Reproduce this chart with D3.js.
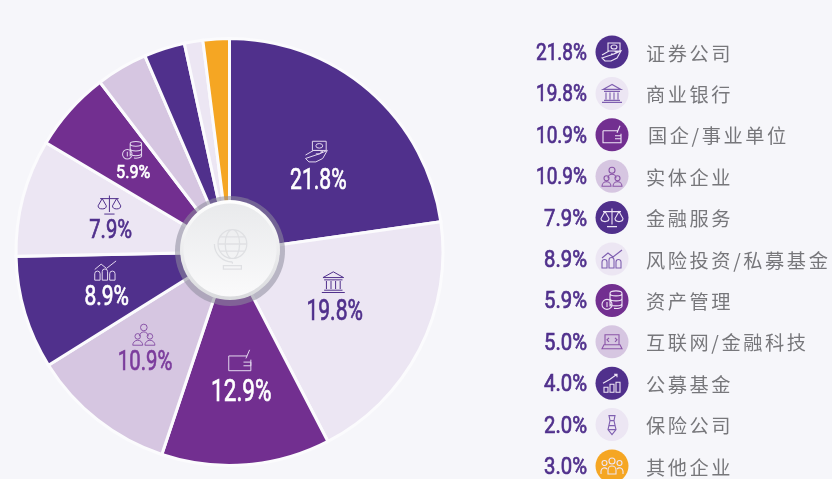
<!DOCTYPE html>
<html>
<head>
<meta charset="utf-8">
<script src="https://cdn.jsdelivr.net/npm/d3@7"></script>
<style>
  html, body { margin: 0; padding: 0; background: #f6f6fa; overflow: hidden; }
  svg { display: block; filter: blur(0.45px); }
  .num { font-family: "Liberation Sans Narrow", "Roboto", sans-serif; font-weight: 400; stroke-width: 0.7px; }
  .name { font-family: "Noto Sans CJK SC", sans-serif; font-size: 19.2px; fill: #77777b; letter-spacing: 2.6px; }
</style>
</head>
<body>
<svg id="chart"></svg>
<script>
// legend, top to bottom
const categories = ["证券公司", "商业银行", "国企/事业单位", "实体企业", "金融服务", "风险投资/私募基金", "资产管理", "互联网/金融科技", "公募基金", "保险公司", "其他企业"];
const legendValues = [21.8, 19.8, 10.9, 10.9, 7.9, 8.9, 5.9, 5.0, 4.0, 2.0, 3.0];
const legendIcons = ["money", "bank", "wallet", "people", "scales", "trend", "coins", "laptop", "growth", "tie", "group"];

// pie, clockwise from 12 o'clock. Slice sizes, they differ a bit from the printed labels
const sliceShares = [22.8, 19.7, 12.8, 11.0, 8.6, 8.9, 6.1, 3.9, 3.1, 1.4, 2.0];
const sliceLabels = [21.8, 19.8, 12.9, 10.9, 8.9, 7.9, 5.9, null, null, null, null];
const sliceIcons = ["money", "bank", "wallet", "people", "trend", "scales", "coins", null, null, null, null];

const DARK = "#50308c", LIGHT = "#ece6f3", PLUM = "#722f90", MAUVE = "#d6c6e1", ORANGE = "#f5a623";
const sliceColors = [DARK, LIGHT, PLUM, MAUVE, DARK, LIGHT, PLUM, MAUVE, DARK, LIGHT, ORANGE];
const legendColors = [DARK, LIGHT, PLUM, MAUVE, DARK, LIGHT, PLUM, MAUVE, DARK, LIGHT, ORANGE];

// label placement relative to the slice centroid, and text size
const labelNudge = [[7, 21], [-6, 0], [2, 13], [-7, 10], [-3, 8], [2, 9], [-3, 2]];
const labelSize = [29, 29, 31, 28, 27, 26, 19];
const iconScale = [0.95, 0.95, 0.95, 0.95, 0.95, 0.95, 1.2];

const width = 832, height = 479;
const cx = 229.5, cy = 252, radius = 213.5;
const hubX = 230, hubY = 250;

// icons drawn in a 24x24 box
const icons = {
  money: "M8 3h12v8H8zM11 7a3 2 0 1 0 6 0a3 2 0 1 0-6 0M2 15l7-4h5l3 1-3 2h-3M14 14l7-3-4 7-6 3H5l-3-3z",
  bank: "M12 3L3 8h18zM4 10h16M6 11v7M10 11v7M14 11v7M18 11v7M4 19h16M2 21h20",
  wallet: "M3 8h15M3 8v12h18V11M15 13h6v3h-6M17 10l3-7",
  people: "M9 6a3 3 0 1 0 6 0a3 3 0 1 0-6 0M8 14a4 4 0 0 1 8 0M4 14a2.5 2.5 0 1 0 5 0a2.5 2.5 0 1 0-5 0M15 14a2.5 2.5 0 1 0 5 0a2.5 2.5 0 1 0-5 0M2 22a4 4 0 0 1 9 0zM13 22a4 4 0 0 1 9 0z",
  scales: "M12 3v16M7 21h10M3 6h18M5 6L1 13a4 3 0 0 0 8 0zM19 6l-4 7a4 3 0 0 0 8 0z",
  trend: "M2 21v-6a2.5 2.5 0 0 1 5 0v6zM9 21v-8a2.5 2.5 0 0 1 5 0v8zM16 21v-6a2.5 2.5 0 0 1 5 0v6zM2 11l6-5 5 4 9-7",
  coins: "M10 5a6 2.5 0 1 0 12 0a6 2.5 0 1 0-12 0M10 5v13M22 5v13a6 2.5 0 0 1-8 2M10 10a6 2.5 0 0 0 12 0M10 15a6 2.5 0 0 0 12 0M2 16a5 5 0 1 0 10 0a5 5 0 1 0-10 0M7 13.5v5",
  laptop: "M5 5h14v10H5zM2 19h20l-2-4H4zM9 8l-2 2 2 2M15 8l2 2-2 2",
  growth: "M4 21v-5h4v5zM10 21v-8h4v8zM16 21V11h4v10zM3 12l7-4 7-5M14 3h3v3",
  tie: "M9 3h6l-1 5h-4zM10 8l-2 9 4 5 4-5-2-9M8.5 13h7M8 17h8",
  group: "M9 7a3 3 0 1 0 6 0a3 3 0 1 0-6 0M2 9a2.5 2.5 0 1 0 5 0a2.5 2.5 0 1 0-5 0M17 9a2.5 2.5 0 1 0 5 0a2.5 2.5 0 1 0-5 0M8 20v-4a4 4 0 0 1 8 0v4zM1 20v-3a3.5 3.5 0 0 1 6-2M23 20v-3a3.5 3.5 0 0 0-6-2",
  globe: "M5 10a8 8 0 1 0 16 0a8 8 0 1 0-16 0M9 10a4 8 0 1 0 8 0a4 8 0 1 0-8 0M5 10h16M6 6h14M6 14h14M3 10a10 10 0 0 0 10 10M13 20v1M8 22h10v2H8z"
};

const svg = d3.select("#chart").attr("width", width).attr("height", height);

// condensed numbers, stretched to the width they have in the picture
function addNumber(g, value, size, color, anchor, wide, narrow) {
  const label = value.toFixed(1) + "%";
  return g.append("text")
    .attr("class", "num")
    .attr("text-anchor", anchor)
    .attr("font-size", size)
    .attr("fill", color)
    .attr("stroke", color)
    .attr("textLength", size * (label.length > 4 ? wide : narrow))
    .attr("lengthAdjust", "spacingAndGlyphs")
    .text(label);
}

function addIcon(g, name, size, color, sw) {
  return g.append("path")
    .attr("d", icons[name])
    .attr("transform", `translate(${-size / 2},${-size / 2}) scale(${size / 24})`)
    .attr("fill", "none")
    .attr("stroke", color)
    .attr("stroke-width", sw * 24 / size);
}

const pie = d3.pie().value((d) => d).sort(null);
const arc = d3.arc().innerRadius(0).outerRadius(radius);
const labelArc = d3.arc().innerRadius(125).outerRadius(125);
const arcs = pie(sliceShares);

const pieG = svg.append("g").attr("transform", `translate(${cx},${cy})`);

// Draw slices
pieG.selectAll("path.slice")
  .data(arcs)
  .enter()
  .append("path")
  .attr("class", "slice")
  .attr("d", arc)
  .attr("fill", (d, i) => sliceColors[i])
  .attr("stroke", "#fbfbfd")
  .attr("stroke-width", 3);

// Draw slice labels
arcs.forEach((d, i) => {
  if (sliceLabels[i] == null) return;
  const [x, y] = labelArc.centroid(d);
  const [nx, ny] = labelNudge[i];
  const dark = sliceColors[i] === DARK || sliceColors[i] === PLUM;
  const textColor = dark ? "#ffffff" : (sliceColors[i] === MAUVE ? "#7b3c9c" : DARK);
  const iconColor = dark ? "#e3d8ee" : (sliceColors[i] === MAUVE ? "#8a55a8" : DARK);
  const size = labelSize[i];
  const iconSize = size * iconScale[i];
  const g = pieG.append("g").attr("transform", `translate(${x + nx},${y + ny})`);
  addNumber(g, sliceLabels[i], size, textColor, "middle", 1.95, i === 6 ? 1.8 : 1.65).attr("y", size * 0.36);
  addIcon(g, sliceIcons[i], iconSize, iconColor, 1)
    .attr("transform", `translate(${-iconSize * 0.55},${-size * 0.42 - iconSize - 1}) scale(${iconSize / 24})`);
});

// Centre hub
const defs = svg.append("defs");
const hubFill = defs.append("linearGradient").attr("id", "hubFill").attr("x1", 0).attr("y1", 0).attr("x2", 0).attr("y2", 1);
hubFill.append("stop").attr("offset", 0).attr("stop-color", "#e9eaec");
hubFill.append("stop").attr("offset", 1).attr("stop-color", "#fafafb");
const hubRim = defs.append("linearGradient").attr("id", "hubRim").attr("x1", 0).attr("y1", 0).attr("x2", 0).attr("y2", 1);
hubRim.append("stop").attr("offset", 0).attr("stop-color", "#ffffff");
hubRim.append("stop").attr("offset", 1).attr("stop-color", "#d9dadd");

const hub = svg.append("g").attr("transform", `translate(${hubX},${hubY})`);
hub.append("circle").attr("r", 55).attr("cy", 1).attr("fill", "#8e8c9c").attr("opacity", 0.55);
hub.append("circle").attr("r", 50).attr("fill", "url(#hubRim)");
hub.append("circle").attr("r", 46.5).attr("fill", "url(#hubFill)");
hub.append("path")
  .attr("d", icons.globe)
  .attr("transform", "translate(-21,-24) scale(1.8)")
  .attr("fill", "none")
  .attr("stroke", "#dfe0e3")
  .attr("stroke-width", 0.7);

// Draw legend
const legendY = d3.scalePoint().domain(categories).range([52, 466]);
const legend = svg.selectAll("g.row")
  .data(categories)
  .enter()
  .append("g")
  .attr("class", "row")
  .attr("transform", (d) => `translate(0,${legendY(d)})`);

legend.each(function (d, i) {
  const row = d3.select(this);
  addNumber(row, legendValues[i], 23, "#50308c", "end", 2.22, 1.87)
    .attr("x", 587)
    .attr("y", 8);
  row.append("circle").attr("cx", 612).attr("r", 16.5).attr("fill", legendColors[i]);
  const dark = [DARK, PLUM, ORANGE].includes(legendColors[i]);
  const ig = row.append("g").attr("transform", "translate(612,0)");
  addIcon(ig, legendIcons[i], 24, dark ? "#eee6f5" : (legendColors[i] === MAUVE ? "#8a55a8" : "#7f5fb0"), 1.1);
  row.append("text")
    .attr("class", "name")
    .attr("x", d.startsWith("国企") ? 648 : 646)
    .attr("y", 8.5)
    .text(d);
});
</script>
</body>
</html>
